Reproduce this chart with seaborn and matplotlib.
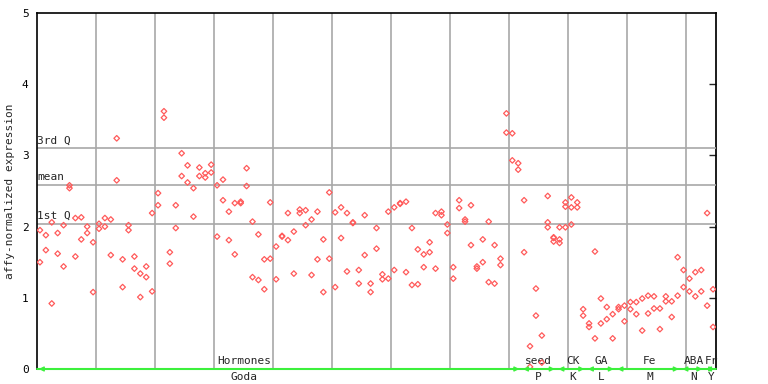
"""Expression scatter: replicate values per sample with group brackets along the x axis."""

import matplotlib

matplotlib.use("Agg")
import matplotlib.pyplot as plt  # noqa: E402
import pandas as pd  # noqa: E402
import seaborn as sns  # noqa: E402

# two replicate values per sample (115 samples)
rep_a = [
    1.95, 1.88, 2.06, 1.91, 2.02, 2.58, 2.12, 2.13, 2.00, 1.78,
    2.04, 2.12, 2.10, 3.24, 1.54, 2.02, 1.58, 1.34, 1.44, 2.19,
    2.47, 3.62, 1.64, 2.30, 3.03, 2.86, 2.54, 2.83, 2.75, 2.87,
    2.58, 2.66, 2.21, 2.33, 2.35, 2.82, 2.07, 1.89, 1.54, 2.34,
    1.72, 1.86, 2.19, 1.93, 2.24, 2.23, 2.10, 2.21, 1.82, 2.48,
    2.20, 2.27, 2.19, 2.05, 1.39, 2.16, 1.20, 1.98, 1.33, 2.21,
    2.27, 2.32, 2.35, 1.98, 1.68, 1.61, 1.78, 2.19, 2.21, 2.03,
    1.43, 2.37, 2.10, 2.30, 1.44, 1.82, 2.07, 1.74, 1.55, 3.59,
    3.31, 2.89, 2.37, 0.32, 1.13, 0.47, 2.43, 1.84, 1.99, 2.34,
    2.41, 2.34, 0.84, 0.64, 1.65, 0.99, 0.87, 0.77, 0.87, 0.89,
    0.94, 0.94, 0.99, 1.03, 1.02, 0.85, 1.02, 0.95, 1.57, 1.39,
    1.27, 1.36, 1.39, 2.19, 1.12,
]
rep_b = [
    1.50, 1.67, 0.92, 1.62, 1.44, 2.54, 1.58, 1.82, 1.91, 1.08,
    1.97, 2.00, 1.60, 2.65, 1.15, 1.95, 1.41, 1.01, 1.29, 1.09,
    2.30, 3.53, 1.48, 1.98, 2.71, 2.62, 2.14, 2.71, 2.69, 2.76,
    1.86, 2.37, 1.81, 1.61, 2.33, 2.57, 1.29, 1.25, 1.12, 1.55,
    1.26, 1.87, 1.81, 1.34, 2.19, 2.02, 1.32, 1.54, 1.08, 1.55,
    1.15, 1.84, 1.37, 2.06, 1.20, 1.60, 1.08, 1.69, 1.26, 1.27,
    1.39, 2.33, 1.36, 1.18, 1.19, 1.43, 1.64, 1.41, 2.16, 1.91,
    1.27, 2.26, 2.07, 1.74, 1.41, 1.50, 1.22, 1.20, 1.46, 3.32,
    2.93, 2.80, 1.64, 0.03, 0.75, 0.09, 2.06, 1.85, 1.82, 2.28,
    2.27, 2.27, 0.75, 0.59, 0.43, 0.64, 0.70, 0.43, 0.84, 0.67,
    0.84, 0.77, 0.54, 0.78, 0.85, 0.56, 0.95, 0.73, 1.03, 1.15,
    1.09, 1.02, 1.09, 0.89, 0.59,
]
# a few samples carry a third replicate
rep_c_idx = [86, 87, 88, 89, 90]
rep_c = [1.99, 1.79, 1.77, 1.99, 2.03]

q3_val, mean_val, q1_val = 3.10, 2.58, 2.04

group_top = ["Hormones", "seed", "CK", "GA", "Fe", "ABA", "Fr"]
group_bottom = ["Goda", "P", "K", "L", "M", "N", "Y"]
group_start = [0, 82, 88, 93, 98, 109, 113]
group_end = [81, 87, 92, 97, 108, 112, 114]
label_pos = [34.6, 84.4, 90.3, 95.1, 103.3, 110.7, 113.7]

n = len(rep_a)
df = pd.concat(
    [
        pd.DataFrame({"sample": range(n), "value": rep_a}),
        pd.DataFrame({"sample": range(n), "value": rep_b}),
        pd.DataFrame({"sample": rep_c_idx, "value": rep_c}),
    ],
    ignore_index=True,
)

sns.set_theme(style="white")
plt.rcParams["font.family"] = ["DejaVu Sans Mono", "DejaVu Sans"]

RED = "#ff5a5a"
GREEN = "#3cf03c"
GRID = "#a8a8a8"

fig = plt.figure(figsize=(7.68, 3.84), dpi=100)
ax = fig.add_axes([37 / 768, 15 / 384, 679 / 768, 356 / 384])

# vertical separators every 10 samples, quartile lines across
for xb in range(10, n, 10):
    ax.axvline(xb - 0.5, color=GRID, lw=1.2, zorder=1)
for yv, txt in [(q3_val, "3rd Q"), (mean_val, "mean"), (q1_val, "1st Q")]:
    ax.axhline(yv, color=GRID, lw=1.2, zorder=1)
    ax.text(-0.45, yv + 0.04, txt, fontsize=8, ha="left", va="bottom", zorder=3)

sns.scatterplot(
    data=df, x="sample", y="value", ax=ax, marker="D", s=8,
    facecolor="none", edgecolor=RED, linewidth=0.9, zorder=4, legend=False,
)

ax.set_xlim(-0.5, n - 0.5)
ax.set_ylim(0, 5)
ax.set_xticks([])
ax.set_yticks(range(6))
ax.tick_params(axis="y", direction="out", length=4, width=1, labelsize=8,
               pad=2, colors="black")
ax.set_xlabel("")
ax.set_ylabel("affy-normalized expression", fontsize=8)
ax.yaxis.set_label_coords(-0.033, 0.5)

right = ax.secondary_yaxis("right")
right.set_yticks(range(1, 5))
right.tick_params(direction="in", length=5, width=1, labelright=False)
right.spines["right"].set_color("black")

for side in ["left", "top", "right", "bottom"]:
    ax.spines[side].set_color("black")
    ax.spines[side].set_linewidth(1.2)
ax.spines["right"].set_visible(False)

# green group brackets along y = 0, with names above and below
ax.axhline(0, color=GREEN, lw=1.5, zorder=5, clip_on=False)
for s0, s1 in zip(group_start, group_end):
    ax.annotate(
        "", xy=(s0 - 0.2, 0), xytext=(s1 + 0.2, 0),
        arrowprops=dict(arrowstyle="<|-|>", color=GREEN, lw=1.0,
                        mutation_scale=7, shrinkA=0, shrinkB=0),
        annotation_clip=False, zorder=6,
    )
for xp, top, bottom in zip(label_pos, group_top, group_bottom):
    ax.annotate(top, xy=(xp, 0), xycoords=("data", "axes fraction"),
                xytext=(0, 2), textcoords="offset points",
                ha="center", va="bottom", fontsize=8, annotation_clip=False)
    ax.annotate(bottom, xy=(xp, 0), xycoords=("data", "axes fraction"),
                xytext=(0, -2), textcoords="offset points",
                ha="center", va="top", fontsize=8, annotation_clip=False)

fig.savefig("out.png", dpi=100)
plt.close(fig)
